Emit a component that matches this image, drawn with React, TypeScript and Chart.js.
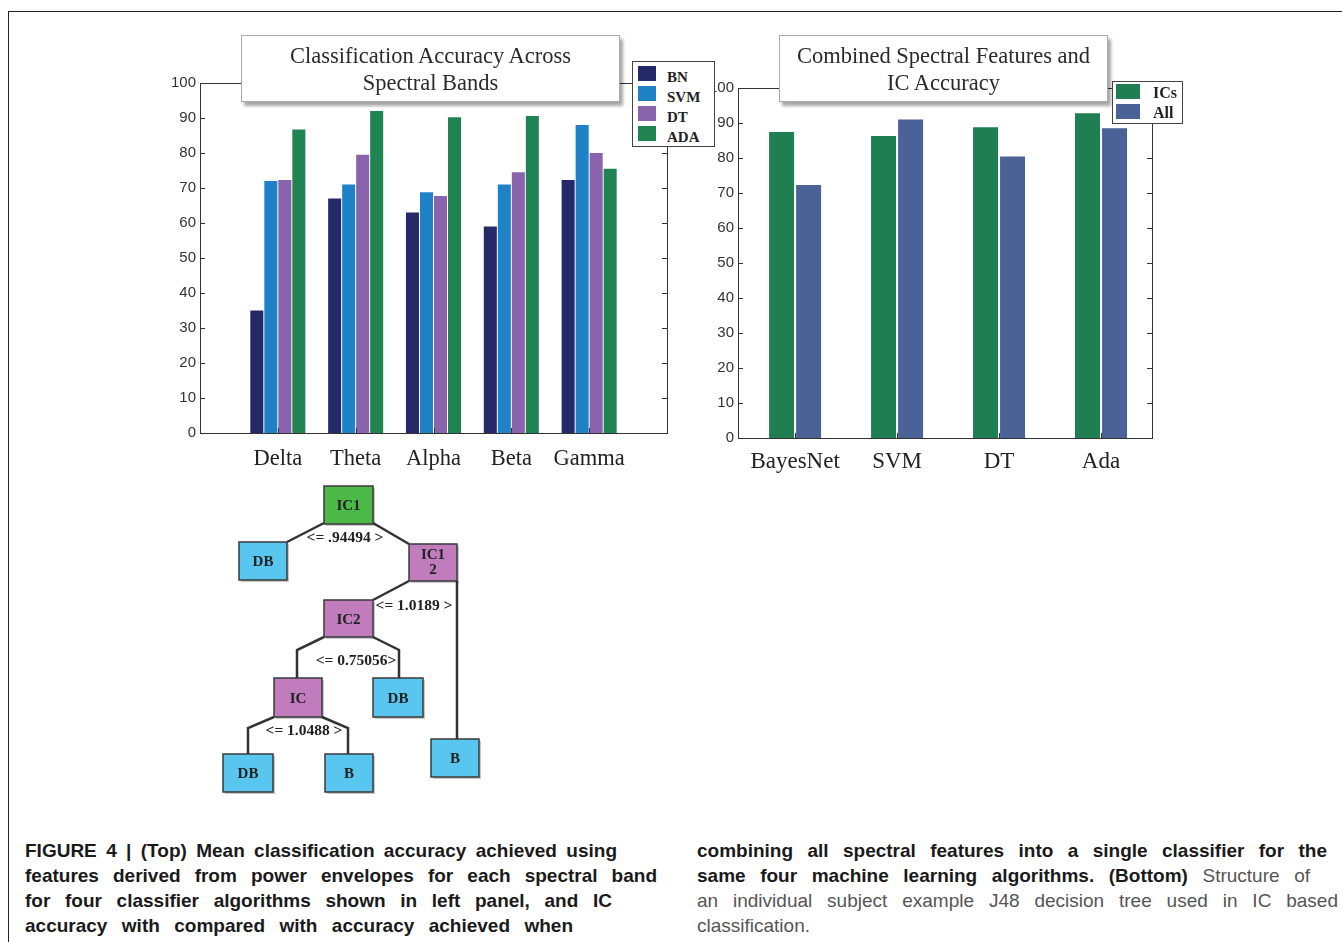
import React, { useEffect, useRef } from 'react';
import { Chart, registerables } from 'chart.js';

Chart.register(...registerables);

// ---------- data ----------
const bands = ['Delta', 'Theta', 'Alpha', 'Beta', 'Gamma'];
const bnAcc = [35, 67, 63, 59, 72.3];
const svmAcc = [72, 71, 68.8, 71, 88];
const dtAcc = [72.3, 79.5, 67.7, 74.5, 80];
const adaAcc = [86.7, 92, 90.2, 90.6, 75.5];
const leftSeries = ['BN', 'SVM', 'DT', 'ADA'];

const algorithms = ['BayesNet', 'SVM', 'DT', 'Ada'];
const icsAcc = [87.4, 86.3, 88.8, 92.8];
const allAcc = [72.3, 91, 80.4, 88.5];
const rightSeries = ['ICs', 'All'];

const yTickStep = 10;

// ---------- styles ----------
const COL = {
  bn: '#242a68',
  svm: '#1f82c6',
  dt: '#8a63ad',
  ada: '#1f8452',
  ics: '#1f7f52',
  all: '#4b6297',
};
const leftColors = [COL.bn, COL.svm, COL.dt, COL.ada];
const rightColors = [COL.ics, COL.all];

const SERIF = '"Liberation Serif", "DejaVu Serif", serif';
const SANS = '"Liberation Sans", Arial, sans-serif';

const framePlugin = {
  id: 'frameTicks',
  afterDatasetsDraw(chart: any) {
    const { ctx, chartArea: a, scales } = chart;
    ctx.save();
    ctx.strokeStyle = '#333';
    ctx.lineWidth = 1;
    ctx.strokeRect(Math.round(a.left) + 0.5, Math.round(a.top) + 0.5, Math.round(a.right - a.left), Math.round(a.bottom - a.top));
    ctx.beginPath();
    const y = scales.y;
    y.ticks.forEach((t: any) => {
      const py = Math.round(y.getPixelForValue(t.value)) + 0.5;
      ctx.moveTo(a.left, py);
      ctx.lineTo(a.left + 5, py);
      ctx.moveTo(a.right, py);
      ctx.lineTo(a.right - 5, py);
    });
    const x = scales.x;
    x.ticks.forEach((t: any) => {
      const px = Math.round(x.getPixelForValue(t.value)) + 0.5;
      ctx.moveTo(px, a.bottom);
      ctx.lineTo(px, a.bottom - 5);
    });
    ctx.stroke();
    ctx.restore();
  },
};

function makeOptions(cats: string[], xmin: number, xmax: number, padTop: number, padRight: number, yWidth: number, xHeight: number, xFont: number, xPad: number) {
  return {
    animation: false as const,
    responsive: false,
    layout: { padding: { top: padTop, right: padRight, left: 0, bottom: 0 } },
    plugins: { legend: { display: false }, tooltip: { enabled: false }, title: { display: false } },
    scales: {
      x: {
        type: 'linear' as const,
        min: xmin,
        max: xmax,
        offset: false,
        grid: { display: false, drawTicks: false, offset: false },
        border: { display: false },
        afterBuildTicks: (s: any) => {
          s.ticks = cats.map((_, i) => ({ value: i }));
        },
        afterFit: (s: any) => {
          s.height = xHeight;
        },
        ticks: {
          autoSkip: false,
          maxRotation: 0,
          padding: xPad,
          color: '#222',
          font: { family: SERIF, size: xFont },
          callback: (v: any) => (cats[v] !== undefined ? cats[v] : ''),
        },
      },
      y: {
        min: 0,
        max: 100,
        grid: { display: false, drawTicks: false },
        border: { display: false },
        afterFit: (s: any) => {
          s.width = yWidth;
        },
        ticks: { stepSize: yTickStep, padding: 4, color: '#333', font: { family: SANS, size: 15 } },
      },
    },
  };
}

function LeftChart() {
  const ref = useRef<HTMLCanvasElement>(null);
  useEffect(() => {
    if (!ref.current) return;
    const series = [bnAcc, svmAcc, dtAcc, adaAcc];
    const chart = new Chart(ref.current, {
      type: 'bar',
      data: {
        datasets: series.map((vals, k) => ({
          label: leftSeries[k],
          data: bands.map((_, i) => ({ x: i, y: vals[i] })),
          backgroundColor: leftColors[k],
          borderWidth: 0,
          categoryPercentage: 0.72,
          barPercentage: 0.93,
        })),
      },
      options: makeOptions(bands, -1, 5, 23, 13, 50, 47, 22.5, 13) as any,
      plugins: [framePlugin],
    });
    return () => chart.destroy();
  }, []);
  return <canvas ref={ref} width={530} height={420} style={{ position: 'absolute', left: 150, top: 60, width: 530, height: 420 }} />;
}

function RightChart() {
  const ref = useRef<HTMLCanvasElement>(null);
  useEffect(() => {
    if (!ref.current) return;
    const series = [icsAcc, allAcc];
    const chart = new Chart(ref.current, {
      type: 'bar',
      data: {
        datasets: series.map((vals, k) => ({
          label: rightSeries[k],
          data: algorithms.map((_, i) => ({ x: i, y: vals[i] })),
          backgroundColor: rightColors[k],
          borderWidth: 0,
          categoryPercentage: 0.53,
          barPercentage: 0.925,
        })),
      },
      options: makeOptions(algorithms, -0.56, 3.5, 28, 18, 48, 52, 23, 10) as any,
      plugins: [framePlugin],
    });
    return () => chart.destroy();
  }, []);
  return <canvas ref={ref} width={480} height={430} style={{ position: 'absolute', left: 690, top: 60, width: 480, height: 430 }} />;
}

function TitleBox({ left, width, lines }: { left: number; width: number; lines: string[] }) {
  return (
    <div
      style={{
        position: 'absolute',
        left,
        top: 35,
        width,
        height: 67,
        boxSizing: 'border-box',
        background: '#fff',
        border: '1px solid #aaa',
        boxShadow: '3px 4px 3px rgba(0,0,0,0.35)',
        paddingTop: 6,
        textAlign: 'center',
        fontFamily: SERIF,
        fontSize: 22.5,
        lineHeight: '27px',
        color: '#2a2a2a',
      }}
    >
      {lines.map((l) => (
        <div key={l}>{l}</div>
      ))}
    </div>
  );
}

function Legend({ left, top, width, height, items, colors, sw, sh, rowGap, swLeft, textLeft, firstTop, fontSize, textShift }: any) {
  return (
    <div style={{ position: 'absolute', left, top, width, height, boxSizing: 'border-box', background: '#fff', border: '1px solid #444' }}>
      {items.map((it: string, i: number) => (
        <React.Fragment key={it}>
          <div style={{ position: 'absolute', left: swLeft, top: firstTop + i * rowGap, width: sw, height: sh, background: colors[i] }} />
          <div
            style={{
              position: 'absolute',
              left: textLeft,
              top: firstTop + i * rowGap + sh / 2 - 10 + textShift,
              height: 20,
              lineHeight: '20px',
              fontFamily: SERIF,
              fontWeight: 'bold',
              fontSize,
              color: '#222',
            }}
          >
            {it}
          </div>
        </React.Fragment>
      ))}
    </div>
  );
}

// ---------- tree ----------
const GREEN = '#4cb848';
const MAG = '#c07cbd';
const CYAN = '#58c6ef';
const treeNodes = [
  { x: 324, y: 486, w: 49, h: 38, c: GREEN, t: ['IC1'] },
  { x: 239, y: 542, w: 48, h: 38, c: CYAN, t: ['DB'] },
  { x: 409, y: 544, w: 48, h: 37, c: MAG, t: ['IC1', '2'] },
  { x: 324, y: 600, w: 49, h: 37, c: MAG, t: ['IC2'] },
  { x: 274, y: 678, w: 48, h: 39, c: MAG, t: ['IC'] },
  { x: 373, y: 678, w: 50, h: 39, c: CYAN, t: ['DB'] },
  { x: 223, y: 754, w: 50, h: 38, c: CYAN, t: ['DB'] },
  { x: 325, y: 754, w: 48, h: 38, c: CYAN, t: ['B'] },
  { x: 431, y: 739, w: 48, h: 38, c: CYAN, t: ['B'] },
];
const treeEdges = [
  '324,523 287,542',
  '373,523 409,544',
  '409,581 373,600',
  '457,581 457,739',
  '324,637 297,650 297,678',
  '373,637 399,650 399,678',
  '274,717 248,728 248,754',
  '322,717 348,728 348,754',
];
const treeLabels = [
  { x: 345, y: 537, t: '<= .94494 >' },
  { x: 414, y: 605, t: '<= 1.0189 >' },
  { x: 356, y: 660, t: '<= 0.75056>' },
  { x: 304, y: 730, t: '<= 1.0488 >' },
];

function Tree() {
  return (
    <svg style={{ position: 'absolute', left: 200, top: 470 }} width={300} height={340} viewBox="200 470 300 340">
      {treeEdges.map((p) => (
        <polyline key={p} points={p} fill="none" stroke="#333" strokeWidth={2.5} />
      ))}
      {treeNodes.map((n, i) => (
        <g key={i}>
          <rect x={n.x + 2} y={n.y + 2} width={n.w} height={n.h} fill="rgba(0,0,0,0.22)" />
          <rect x={n.x} y={n.y} width={n.w} height={n.h} fill={n.c} stroke="#3a3a3a" strokeWidth={1.5} />
          {n.t.map((s, k) => (
            <text
              key={k}
              x={n.x + n.w / 2}
              y={n.t.length === 1 ? n.y + n.h / 2 + 5 : n.y + 15 + k * 15}
              textAnchor="middle"
              fontFamily={SERIF}
              fontWeight="bold"
              fontSize={15}
              fill="#222"
            >
              {s}
            </text>
          ))}
        </g>
      ))}
      {treeLabels.map((l) => (
        <text key={l.t} x={l.x} y={l.y + 5} textAnchor="middle" fontFamily={SERIF} fontWeight="bold" fontSize={15.5} fill="#222">
          {l.t}
        </text>
      ))}
    </svg>
  );
}

// ---------- caption ----------
type Seg = { t: string; b: boolean };
const captionLeft: { w: number | null; segs: Seg[] }[] = [
  { w: 592, segs: [{ t: 'FIGURE 4 | (Top) Mean classification accuracy achieved using', b: true }] },
  { w: 632, segs: [{ t: 'features derived from power envelopes for each spectral band', b: true }] },
  { w: 587, segs: [{ t: 'for four classifier algorithms shown in left panel, and IC', b: true }] },
  { w: 548, segs: [{ t: 'accuracy with compared with accuracy achieved when', b: true }] },
];
const captionRight: { w: number | null; segs: Seg[] }[] = [
  { w: 630, segs: [{ t: 'combining all spectral features into a single classifier for the', b: true }] },
  {
    w: 613,
    segs: [
      { t: 'same four machine learning algorithms. (Bottom)', b: true },
      { t: ' Structure of', b: false },
    ],
  },
  { w: 641, segs: [{ t: 'an individual subject example J48 decision tree used in IC based', b: false }] },
  { w: null, segs: [{ t: 'classification.', b: false }] },
];

function Caption({ left, lines }: { left: number; lines: { w: number | null; segs: Seg[] }[] }) {
  return (
    <div style={{ position: 'absolute', left, top: 838, fontFamily: SANS, fontSize: 19, lineHeight: '25px' }}>
      {lines.map((ln, i) => (
        <div
          key={i}
          style={{
            width: ln.w ?? undefined,
            whiteSpace: 'nowrap',
            textAlign: ln.w ? 'justify' : 'left',
            textAlignLast: ln.w ? 'justify' : 'auto',
          } as any}
        >
          {ln.segs.map((s, k) => (
            <span key={k} style={{ fontWeight: s.b ? 'bold' : 'normal', color: s.b ? '#1a1a1a' : '#555' }}>
              {s.t}
            </span>
          ))}
        </div>
      ))}
    </div>
  );
}

export default function App() {
  return (
    <div style={{ position: 'absolute', left: 0, top: 0, width: 1342, height: 942, overflow: 'hidden', background: '#fff' }}>
      <div style={{ position: 'absolute', left: 8, top: 11, width: 1342, height: 940, borderTop: '1px solid #222', borderLeft: '1px solid #222' }} />
      <LeftChart />
      <RightChart />
      <TitleBox left={241} width={379} lines={['Classification Accuracy Across', 'Spectral Bands']} />
      <TitleBox left={779} width={329} lines={['Combined Spectral Features and', 'IC Accuracy']} />
      <Legend
        left={632}
        top={61}
        width={83}
        height={86}
        items={leftSeries}
        colors={leftColors}
        sw={18}
        sh={15}
        rowGap={20}
        swLeft={5}
        textLeft={34}
        firstTop={4}
        fontSize={15}
        textShift={3}
      />
      <Legend
        left={1112}
        top={81}
        width={71}
        height={43}
        items={rightSeries}
        colors={rightColors}
        sw={24}
        sh={15}
        rowGap={20}
        swLeft={3}
        textLeft={40}
        firstTop={2}
        fontSize={16}
        textShift={1}
      />
      <Tree />
      <Caption left={25} lines={captionLeft} />
      <Caption left={697} lines={captionRight} />
    </div>
  );
}
